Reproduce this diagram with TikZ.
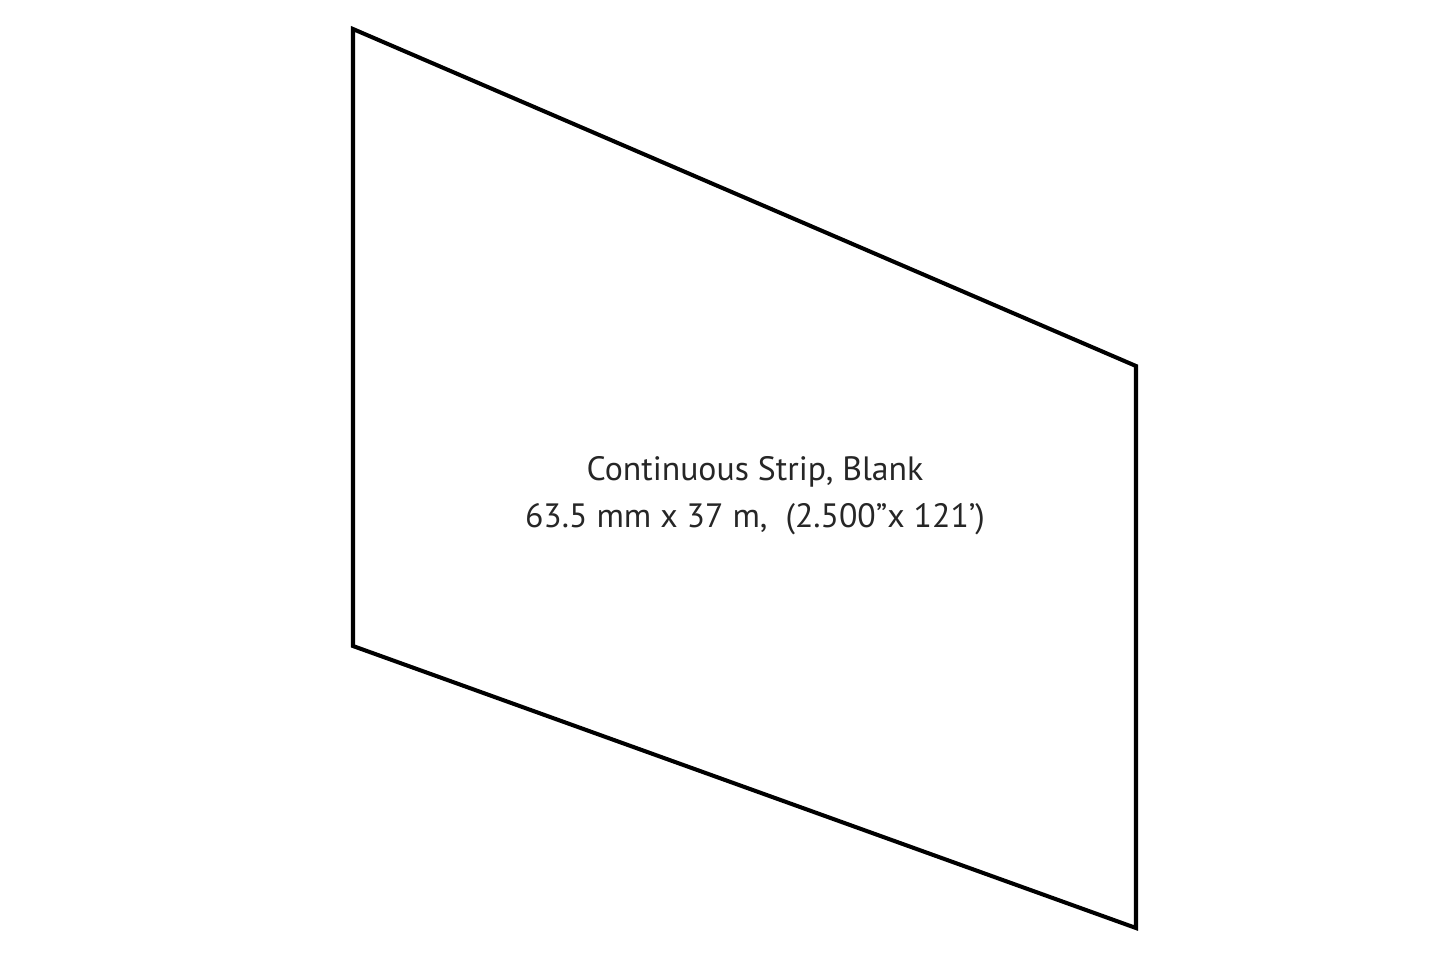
\documentclass[tikz,border=0pt]{standalone}
\usepackage{fontspec}
\setmainfont{PT Sans}
\usetikzlibrary{positioning}

\begin{document}
\begin{tikzpicture}[x=0.01cm,y=-0.01cm,
  stripline/.style={line width=1.15pt,line join=miter},
  striptext/.style={font=\fontsize{9.6pt}{13.3pt}\selectfont,align=center,text=black!85}]
\useasboundingbox (0,0) rectangle (1445,963);

\coordinate (tl) at (353,29);
\coordinate (tr) at (1136,366);
\coordinate (br) at (1136,928);
\coordinate (bl) at (353,646);
\draw[stripline] (tl) -- (tr) -- (br) -- (bl) -- cycle;

\node[striptext] (label) at (755,496) {Continuous Strip, Blank\\63.5 mm x 37 m,~ (2.500\char"201D x 121\char"2019)};

\end{tikzpicture}
\end{document}
